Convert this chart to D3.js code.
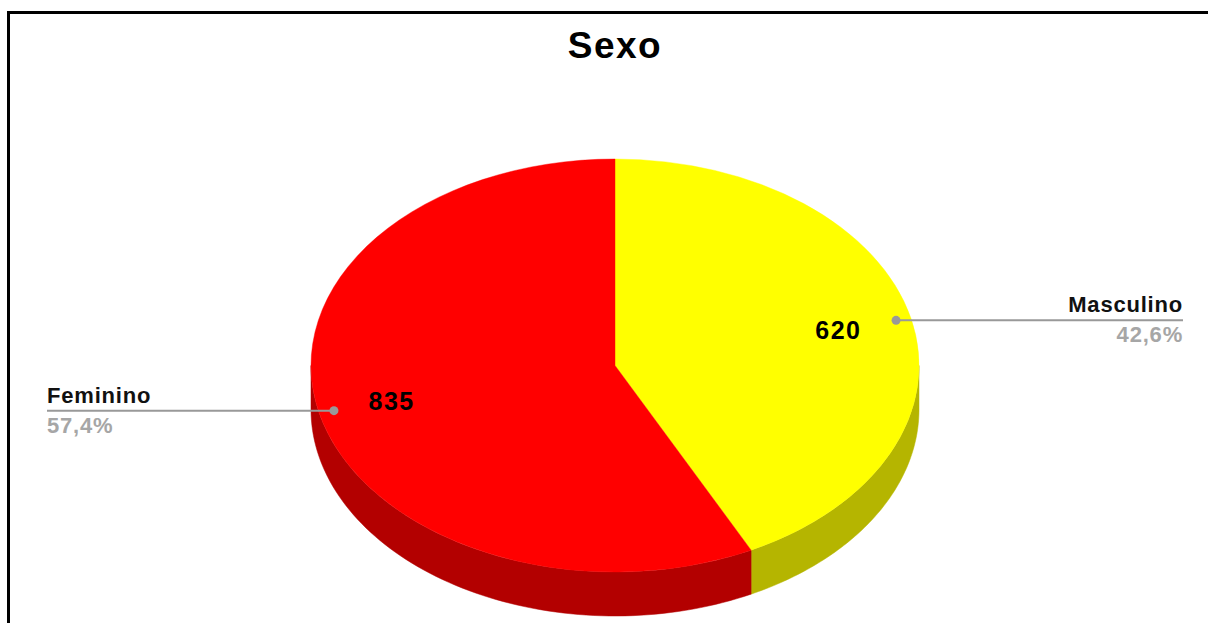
<!DOCTYPE html>
<html>
<head>
<meta charset="utf-8">
<script src="https://cdn.jsdelivr.net/npm/d3@7"></script>
<style>
  html, body { margin: 0; padding: 0; background: #fff; }
  svg { display: block; font-family: "Liberation Sans", Arial, sans-serif; }
</style>
</head>
<body>
<svg id="chart"></svg>
<script>
// data
const categories = ["Masculino", "Feminino"];
const counts = [620, 835];
const percentLabels = ["42,6%", "57,4%"];
const topColors = ["#ffff00", "#ff0000"];
const sideColors = ["#b5b500", "#b30000"];
const title = "Sexo";

const width = 1208, height = 623;
const cx = 615, cy = 365.5, rx = 304, ry = 206.5, depth = 44;

const svg = d3.select("#chart").attr("width", width).attr("height", height);

// frame
svg.append("rect")
    .attr("x", 8.5).attr("y", 12.5)
    .attr("width", 1300).attr("height", 800)
    .attr("fill", "none").attr("stroke", "#000").attr("stroke-width", 3);

svg.append("text")
    .attr("x", cx).attr("y", 58)
    .attr("text-anchor", "middle")
    .style("font-size", "37px").style("font-weight", "bold")
    .style("letter-spacing", "1.5px")
    .text(title);

const data = categories.map((c, i) => ({name: c, value: counts[i], pct: percentLabels[i], i: i}));
const pie = d3.pie().value(d => d.value).sort(null);
const arcs = pie(data);

// point on ellipse at angle a (0 = top, clockwise)
const pt = (a, f = 1, dz = 0) => [cx + rx * f * Math.sin(a), cy - ry * f * Math.cos(a) + dz];

// sides: only the front half (a in [PI/2, 3PI/2]) is visible
const line = d3.line();
const sides = svg.append("g");
arcs.forEach(d => {
    const a0 = Math.max(d.startAngle, Math.PI / 2);
    const a1 = Math.min(d.endAngle, Math.PI * 1.5);
    if (a1 <= a0) return;
    const steps = 80;
    const angles = d3.range(steps + 1).map(k => a0 + (a1 - a0) * k / steps);
    const pts = angles.map(a => pt(a)).concat(angles.slice().reverse().map(a => pt(a, 1, depth)));
    sides.append("path")
        .attr("d", line(pts) + "Z")
        .attr("fill", sideColors[d.data.i])
        .attr("stroke", sideColors[d.data.i]).attr("stroke-width", 0.5);
});

// top faces: circular arcs squashed into an ellipse
const arcGen = d3.arc().innerRadius(0).outerRadius(rx);
svg.append("g")
    .attr("transform", `translate(${cx},${cy}) scale(1,${ry / rx})`)
    .selectAll("path")
    .data(arcs)
    .join("path")
    .attr("d", arcGen)
    .attr("fill", d => topColors[d.data.i])
    .attr("stroke", d => topColors[d.data.i]).attr("stroke-width", 0.5);

// values inside slices
svg.append("g").selectAll("text")
    .data(arcs)
    .join("text")
    .attr("x", d => pt((d.startAngle + d.endAngle) / 2, 0.755)[0])
    .attr("y", d => pt((d.startAngle + d.endAngle) / 2, 0.755)[1] + 9)
    .attr("text-anchor", "middle")
    .style("font-size", "25px").style("font-weight", "bold")
    .style("letter-spacing", "1.5px")
    .text(d => d.data.value);

// leader lines and labels
const labels = svg.append("g");
arcs.forEach(d => {
    const mid = (d.startAngle + d.endAngle) / 2;
    const [px, py] = pt(mid, 0.95);
    const right = Math.sin(mid) > 0;
    const endX = right ? 1183 : 47;
    labels.append("line")
        .attr("x1", px).attr("y1", py).attr("x2", endX).attr("y2", py)
        .attr("stroke", "#999").attr("stroke-width", 2);
    labels.append("circle")
        .attr("cx", px).attr("cy", py).attr("r", 4.5)
        .attr("fill", "#999");
    labels.append("text")
        .attr("x", endX).attr("y", py - 8)
        .attr("text-anchor", right ? "end" : "start")
        .style("font-size", "22px").style("font-weight", "bold")
        .style("letter-spacing", "0.8px")
        .attr("fill", "#111")
        .text(d.data.name);
    labels.append("text")
        .attr("x", endX).attr("y", py + 22)
        .attr("text-anchor", right ? "end" : "start")
        .style("font-size", "22px").style("font-weight", "bold")
        .style("letter-spacing", "0.8px")
        .attr("fill", "#a6a6a6")
        .text(d.data.pct);
});
</script>
</body>
</html>
